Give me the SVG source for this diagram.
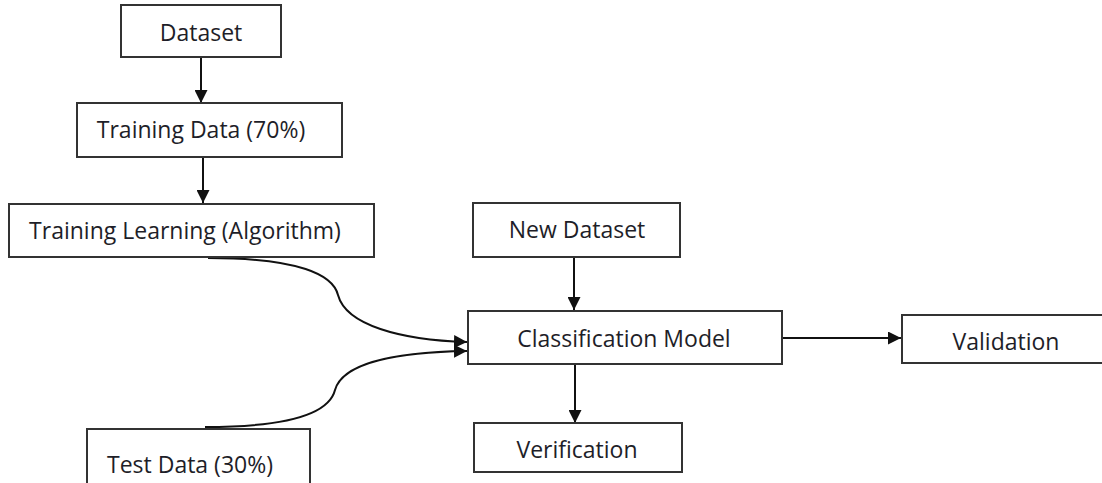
<svg xmlns="http://www.w3.org/2000/svg" width="1102" height="483" viewBox="0 0 1102 483">
<defs>
<style>
.box{fill:#fff;stroke:#333;stroke-width:2}
.lbl{font-family:"Open Sans","Liberation Sans",sans-serif;font-size:23px;fill:#1e1e28;text-anchor:middle}
.con{fill:none;stroke:#111;stroke-width:2}
</style>
<marker id="ah" markerWidth="13" markerHeight="13" viewBox="0 0 13 13" refX="13" refY="6.5" orient="auto" markerUnits="userSpaceOnUse">
<path d="M0,0 L13,6.5 L0,13 Z" fill="#111"/>
</marker>
</defs>
<rect width="1102" height="483" fill="#fff"/>
<g id="connectors">
<path class="con" d="M201,57 V103" marker-end="url(#ah)"/>
<path class="con" d="M203,157 V203" marker-end="url(#ah)"/>
<path class="con" d="M208,258 C300,258 333,275 338,295 C346,325 400,340 467,342" marker-end="url(#ah)"/>
<path class="con" d="M205,427 C300,427 330,410 335,390 C343,362 400,352 467,351" marker-end="url(#ah)"/>
<path class="con" d="M574,257 V310" marker-end="url(#ah)"/>
<path class="con" d="M575,364 V423" marker-end="url(#ah)"/>
<path class="con" d="M782,338 H901" marker-end="url(#ah)"/>
</g>
<g id="dataset"><rect class="box" x="121" y="5" width="160" height="52"/><text class="lbl" x="201" y="41">Dataset</text></g>
<g id="training-data"><rect class="box" x="77" y="103" width="265" height="54"/><text class="lbl" x="201" y="138">Training Data (70%)</text></g>
<g id="training-learning"><rect class="box" x="9" y="204" width="365" height="53"/><text class="lbl" x="185" y="239">Training Learning (Algorithm)</text></g>
<g id="test-data"><rect class="box" x="87" y="429" width="223" height="60"/><text class="lbl" x="190" y="473">Test Data (30%)</text></g>
<g id="new-dataset"><rect class="box" x="473" y="203" width="207" height="54"/><text class="lbl" x="577" y="238">New Dataset</text></g>
<g id="classification-model"><rect class="box" x="468" y="311" width="314" height="53"/><text class="lbl" x="624" y="347">Classification Model</text></g>
<g id="verification"><rect class="box" x="474" y="423" width="208" height="49"/><text class="lbl" x="577" y="458">Verification</text></g>
<g id="validation"><rect class="box" x="902" y="315" width="210" height="48"/><text class="lbl" x="1006" y="350">Validation</text></g>
</svg>
